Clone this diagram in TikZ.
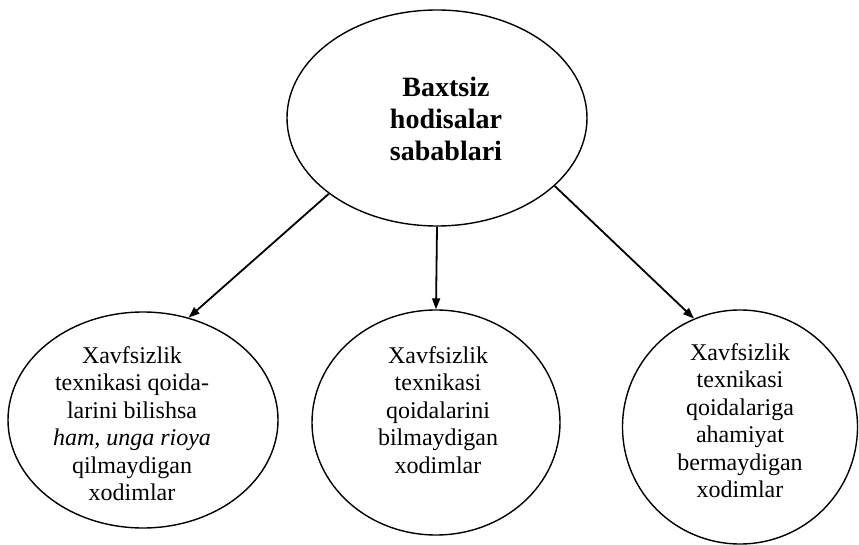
\documentclass[tikz,border=0pt]{standalone}
\usepackage{fontspec}
\setmainfont{Liberation Serif}
\usetikzlibrary{shapes.geometric,arrows.meta}
\begin{document}
\begin{tikzpicture}[x=1pt,y=-1pt,
  shapebox/.style={ellipse, draw, line width=1.4pt, inner sep=0pt},
  bodytext/.style={align=center, font=\fontsize{24}{27.5}\selectfont, inner sep=0pt},
  headtext/.style={align=center, font=\bfseries\fontsize{28}{32}\selectfont, inner sep=0pt},
  arrowline/.style={line width=1.8pt, -{Triangle[length=11pt,width=8pt]}}]
\useasboundingbox (0,0) rectangle (859,545);
\node[shapebox, minimum width=300pt, minimum height=216pt] (top) at (437,118) {};
\node[headtext] (toptext) at (446,119) {Baxtsiz\\hodisalar\\sabablari};
\node[shapebox, minimum width=270pt, minimum height=216pt] (left) at (143,420) {};
\node[bodytext] (lefttext) at (132,423.5) {Xavfsizlik\\texnikasi qoida-\\larini bilishsa\\\textit{ham, unga rioya}\\qilmaydigan\\xodimlar};
\node[shapebox, minimum width=248pt, minimum height=225pt] (mid) at (436,422.5) {};
\node[bodytext] (midtext) at (438,410) {Xavfsizlik\\texnikasi\\qoidalarini\\bilmaydigan\\xodimlar};
\node[shapebox, minimum width=235pt, minimum height=234pt] (right) at (740,427) {};
\node[bodytext] (righttext) at (740,420.5) {Xavfsizlik\\texnikasi\\qoidalariga\\ahamiyat\\bermaydigan\\xodimlar};
\draw[arrowline] (top.215) -- (left.66);
\draw[arrowline] (top.south) -- (mid.north);
\draw[arrowline] (top.330) -- (right.113);
\end{tikzpicture}
\end{document}
